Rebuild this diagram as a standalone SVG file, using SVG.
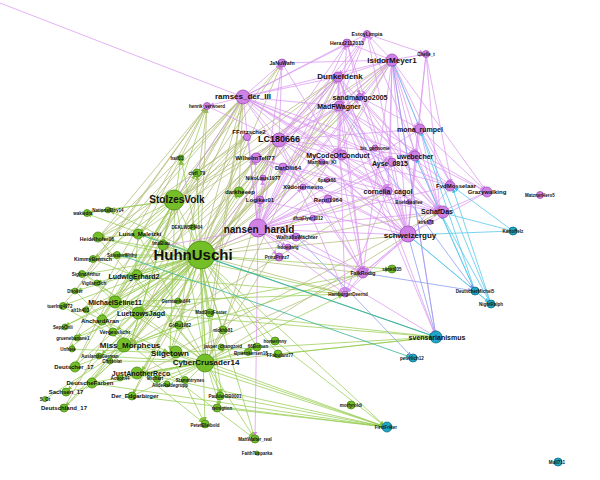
<svg xmlns="http://www.w3.org/2000/svg" width="600" height="480" viewBox="0 0 600 480">
<style>
line{stroke-width:0.9;fill:none}
.eg{stroke:#94cc4c;stroke-opacity:.8;marker-end:url(#mg)}
.ek{stroke:#aebb72;stroke-opacity:.8;marker-end:url(#mk)}
.ev{stroke:#d994ef;stroke-opacity:.8;marker-end:url(#mv)}
.ec{stroke:#5cc8ec;stroke-opacity:.9;marker-end:url(#mc)}
.et{stroke:#3cb49a;stroke-opacity:.9;marker-end:url(#mt)}
.ep{stroke:#8f9ff0;stroke-opacity:.9;marker-end:url(#mp)}
.g{fill:#74be28;stroke:#4a8a18;stroke-width:0.8}
.p{fill:#d081e6;stroke:#9c4fb5;stroke-width:0.8}
.b{fill:#1fa6c6;stroke:#0c6d88;stroke-width:0.8}
text{font-family:"Liberation Sans",Arial,sans-serif;font-weight:bold;fill:#111;text-anchor:middle;dominant-baseline:central}
.t15{font-size:15px}.t10{font-size:10px}.t9{font-size:9px}.t8{font-size:8px}.t7{font-size:7px}.t6{font-size:6px}.t5{font-size:5.2px}.t4{font-size:4.5px}
</style>
<defs>
<marker id="mg" viewBox="0 0 10 10" refX="14" refY="5" markerWidth="5" markerHeight="5" orient="auto" markerUnits="userSpaceOnUse"><path d="M0,1L10,5L0,9z" fill="#86c23a"/></marker>
<marker id="mk" viewBox="0 0 10 10" refX="14" refY="5" markerWidth="5" markerHeight="5" orient="auto" markerUnits="userSpaceOnUse"><path d="M0,1L10,5L0,9z" fill="#9fb468"/></marker>
<marker id="mv" viewBox="0 0 10 10" refX="14" refY="5" markerWidth="5" markerHeight="5" orient="auto" markerUnits="userSpaceOnUse"><path d="M0,1L10,5L0,9z" fill="#d38be8"/></marker>
<marker id="mc" viewBox="0 0 10 10" refX="14" refY="5" markerWidth="5" markerHeight="5" orient="auto" markerUnits="userSpaceOnUse"><path d="M0,1L10,5L0,9z" fill="#40bce6"/></marker>
<marker id="mt" viewBox="0 0 10 10" refX="14" refY="5" markerWidth="5" markerHeight="5" orient="auto" markerUnits="userSpaceOnUse"><path d="M0,1L10,5L0,9z" fill="#30a88e"/></marker>
<marker id="mp" viewBox="0 0 10 10" refX="14" refY="5" markerWidth="5" markerHeight="5" orient="auto" markerUnits="userSpaceOnUse"><path d="M0,1L10,5L0,9z" fill="#8a8ff0"/></marker>
</defs>
<rect width="600" height="480" fill="#fff"/>
<g id="connectors">
<line class="eg" x1="200" y1="255" x2="138" y2="234"/><line class="eg" x1="200" y1="255" x2="98" y2="238"/><line class="eg" x1="200" y1="255" x2="93" y2="259"/><line class="eg" x1="200" y1="255" x2="85" y2="274"/><line class="eg" x1="200" y1="255" x2="135" y2="276"/><line class="eg" x1="200" y1="255" x2="95" y2="283"/><line class="eg" x1="200" y1="255" x2="75" y2="291"/><line class="eg" x1="200" y1="255" x2="115" y2="302"/><line class="eg" x1="200" y1="255" x2="62" y2="306"/><line class="eg" x1="200" y1="255" x2="82" y2="310"/><line class="eg" x1="200" y1="255" x2="140" y2="313"/><line class="eg" x1="200" y1="255" x2="100" y2="320"/><line class="eg" x1="200" y1="255" x2="63" y2="327"/><line class="eg" x1="200" y1="255" x2="115" y2="332"/><line class="eg" x1="200" y1="255" x2="75" y2="338"/><line class="eg" x1="200" y1="255" x2="130" y2="345"/><line class="eg" x1="200" y1="255" x2="68" y2="349"/><line class="eg" x1="200" y1="255" x2="100" y2="356"/><line class="eg" x1="200" y1="255" x2="74" y2="367"/><line class="eg" x1="200" y1="255" x2="170" y2="353"/><line class="eg" x1="200" y1="255" x2="206" y2="362"/><line class="eg" x1="200" y1="255" x2="141" y2="373"/><line class="eg" x1="200" y1="255" x2="90" y2="383"/><line class="eg" x1="200" y1="255" x2="66" y2="392"/><line class="eg" x1="200" y1="255" x2="64" y2="408"/><line class="eg" x1="200" y1="255" x2="132" y2="396"/><line class="eg" x1="200" y1="255" x2="222" y2="396"/><line class="eg" x1="200" y1="255" x2="220" y2="408"/><line class="eg" x1="200" y1="255" x2="205" y2="424"/><line class="eg" x1="200" y1="255" x2="255" y2="439"/><line class="eg" x1="200" y1="255" x2="175" y2="200"/><line class="eg" x1="200" y1="255" x2="108" y2="210"/><line class="eg" x1="200" y1="255" x2="85" y2="213"/><line class="eg" x1="200" y1="255" x2="120" y2="255"/><line class="eg" x1="200" y1="255" x2="162" y2="246"/><line class="eg" x1="200" y1="255" x2="181" y2="158"/><line class="eg" x1="200" y1="255" x2="197" y2="173"/><line class="eg" x1="200" y1="255" x2="239" y2="192"/><line class="eg" x1="200" y1="255" x2="392" y2="269"/><line class="eg" x1="200" y1="255" x2="386" y2="427"/>
<line class="eg" x1="115" y1="302" x2="200" y2="255"/><line class="eg" x1="130" y1="345" x2="200" y2="255"/><line class="eg" x1="206" y1="362" x2="200" y2="255"/><line class="eg" x1="135" y1="276" x2="200" y2="255"/><line class="eg" x1="176" y1="301" x2="200" y2="255"/><line class="eg" x1="210" y1="312" x2="200" y2="255"/><line class="eg" x1="223" y1="330" x2="200" y2="255"/><line class="eg" x1="180" y1="325" x2="200" y2="255"/><line class="eg" x1="275" y1="341" x2="200" y2="255"/><line class="eg" x1="278" y1="354" x2="200" y2="255"/><line class="eg" x1="257" y1="347" x2="200" y2="255"/><line class="eg" x1="190" y1="227" x2="200" y2="255"/>
<line class="eg" x1="175" y1="200" x2="207" y2="106"/><line class="eg" x1="175" y1="200" x2="181" y2="158"/><line class="eg" x1="175" y1="200" x2="197" y2="173"/><line class="eg" x1="175" y1="200" x2="108" y2="210"/><line class="eg" x1="175" y1="200" x2="85" y2="213"/><line class="eg" x1="175" y1="200" x2="98" y2="238"/><line class="eg" x1="175" y1="200" x2="138" y2="234"/><line class="eg" x1="175" y1="200" x2="135" y2="276"/><line class="eg" x1="175" y1="200" x2="115" y2="302"/><line class="eg" x1="175" y1="200" x2="93" y2="259"/><line class="eg" x1="175" y1="200" x2="140" y2="313"/><line class="eg" x1="175" y1="200" x2="130" y2="345"/><line class="eg" x1="175" y1="200" x2="170" y2="353"/><line class="eg" x1="175" y1="200" x2="206" y2="362"/><line class="eg" x1="175" y1="200" x2="162" y2="246"/><line class="eg" x1="175" y1="200" x2="100" y2="320"/><line class="eg" x1="175" y1="200" x2="74" y2="367"/>
<line class="eg" x1="98" y1="238" x2="138" y2="234"/><line class="eg" x1="85" y1="213" x2="108" y2="210"/><line class="eg" x1="138" y1="234" x2="135" y2="276"/><line class="eg" x1="135" y1="276" x2="115" y2="302"/><line class="eg" x1="115" y1="302" x2="140" y2="313"/><line class="eg" x1="140" y1="313" x2="130" y2="345"/><line class="eg" x1="130" y1="345" x2="170" y2="353"/><line class="eg" x1="170" y1="353" x2="206" y2="362"/><line class="eg" x1="206" y1="362" x2="141" y2="373"/><line class="eg" x1="130" y1="345" x2="90" y2="383"/><line class="eg" x1="100" y1="320" x2="130" y2="345"/><line class="eg" x1="74" y1="367" x2="130" y2="345"/><line class="eg" x1="64" y1="408" x2="130" y2="345"/><line class="eg" x1="66" y1="392" x2="206" y2="362"/><line class="eg" x1="132" y1="396" x2="206" y2="362"/><line class="eg" x1="90" y1="383" x2="206" y2="362"/><line class="eg" x1="141" y1="373" x2="205" y2="424"/><line class="eg" x1="206" y1="362" x2="220" y2="408"/><line class="eg" x1="206" y1="362" x2="222" y2="396"/><line class="eg" x1="206" y1="362" x2="255" y2="439"/><line class="eg" x1="130" y1="345" x2="255" y2="439"/><line class="eg" x1="170" y1="353" x2="205" y2="424"/><line class="eg" x1="115" y1="302" x2="206" y2="362"/><line class="eg" x1="135" y1="276" x2="206" y2="362"/><line class="eg" x1="98" y1="238" x2="206" y2="362"/><line class="eg" x1="138" y1="234" x2="206" y2="362"/><line class="eg" x1="85" y1="274" x2="206" y2="362"/><line class="eg" x1="62" y1="306" x2="130" y2="345"/><line class="eg" x1="63" y1="327" x2="115" y2="302"/><line class="eg" x1="75" y1="338" x2="140" y2="313"/><line class="eg" x1="68" y1="349" x2="170" y2="353"/><line class="eg" x1="100" y1="356" x2="206" y2="362"/><line class="eg" x1="112" y1="361" x2="206" y2="362"/><line class="eg" x1="157" y1="379" x2="206" y2="362"/><line class="eg" x1="188" y1="380" x2="206" y2="362"/><line class="eg" x1="168" y1="385" x2="206" y2="362"/><line class="eg" x1="120" y1="378" x2="206" y2="362"/><line class="eg" x1="45" y1="399" x2="130" y2="345"/><line class="eg" x1="206" y1="362" x2="227" y2="347"/><line class="eg" x1="206" y1="362" x2="248" y2="352"/><line class="eg" x1="206" y1="362" x2="257" y2="347"/><line class="eg" x1="223" y1="330" x2="206" y2="362"/><line class="eg" x1="210" y1="312" x2="130" y2="345"/><line class="eg" x1="180" y1="325" x2="130" y2="345"/><line class="eg" x1="93" y1="259" x2="135" y2="276"/><line class="eg" x1="85" y1="274" x2="115" y2="302"/><line class="eg" x1="95" y1="283" x2="140" y2="313"/><line class="eg" x1="75" y1="291" x2="130" y2="345"/><line class="eg" x1="82" y1="310" x2="170" y2="353"/>
<line class="eg" x1="222" y1="396" x2="386" y2="427"/><line class="eg" x1="220" y1="408" x2="386" y2="427"/><line class="eg" x1="132" y1="396" x2="386" y2="427"/><line class="eg" x1="141" y1="373" x2="386" y2="427"/><line class="eg" x1="206" y1="362" x2="386" y2="427"/><line class="eg" x1="130" y1="345" x2="386" y2="427"/><line class="eg" x1="170" y1="353" x2="386" y2="427"/><line class="eg" x1="90" y1="383" x2="386" y2="427"/><line class="eg" x1="275" y1="341" x2="386" y2="427"/>
<line class="eg" x1="140" y1="313" x2="436" y2="337"/><line class="eg" x1="170" y1="353" x2="436" y2="337"/><line class="eg" x1="206" y1="362" x2="436" y2="337"/><line class="eg" x1="115" y1="302" x2="436" y2="337"/><line class="eg" x1="278" y1="354" x2="436" y2="337"/>
<line class="eg" x1="135" y1="276" x2="345" y2="294"/><line class="eg" x1="115" y1="302" x2="345" y2="294"/><line class="eg" x1="130" y1="345" x2="363" y2="273"/><line class="eg" x1="140" y1="313" x2="392" y2="269"/><line class="eg" x1="98" y1="238" x2="345" y2="294"/><line class="eg" x1="206" y1="362" x2="345" y2="294"/>
<line class="ek" x1="200" y1="255" x2="243" y2="97"/><line class="ek" x1="200" y1="255" x2="248" y2="134"/><line class="ek" x1="200" y1="255" x2="279" y2="140"/><line class="ek" x1="200" y1="255" x2="255" y2="158"/><line class="ek" x1="200" y1="255" x2="338" y2="77"/><line class="ek" x1="200" y1="255" x2="392" y2="60"/><line class="ek" x1="200" y1="255" x2="339" y2="106"/><line class="ek" x1="200" y1="255" x2="360" y2="97"/><line class="ek" x1="200" y1="255" x2="282" y2="63"/><line class="ek" x1="200" y1="255" x2="207" y2="106"/><line class="ek" x1="200" y1="255" x2="284" y2="168"/><line class="ek" x1="200" y1="255" x2="258" y2="229"/><line class="ek" x1="200" y1="255" x2="388" y2="191"/><line class="ek" x1="200" y1="255" x2="408" y2="235"/><line class="ek" x1="200" y1="255" x2="440" y2="212"/><line class="ek" x1="200" y1="255" x2="363" y2="273"/><line class="ek" x1="200" y1="255" x2="345" y2="294"/><line class="ek" x1="200" y1="255" x2="322" y2="162"/><line class="ek" x1="200" y1="255" x2="338" y2="155"/>
<line class="ek" x1="98" y1="238" x2="243" y2="97"/><line class="ek" x1="98" y1="238" x2="207" y2="106"/><line class="ek" x1="138" y1="234" x2="279" y2="140"/><line class="ek" x1="135" y1="276" x2="243" y2="97"/><line class="ek" x1="115" y1="302" x2="248" y2="134"/><line class="ek" x1="140" y1="313" x2="279" y2="140"/><line class="ek" x1="130" y1="345" x2="243" y2="97"/><line class="ek" x1="130" y1="345" x2="255" y2="158"/><line class="ek" x1="170" y1="353" x2="279" y2="140"/><line class="ek" x1="206" y1="362" x2="243" y2="97"/><line class="ek" x1="206" y1="362" x2="338" y2="77"/><line class="ek" x1="85" y1="274" x2="207" y2="106"/><line class="ek" x1="93" y1="259" x2="243" y2="97"/><line class="ek" x1="75" y1="291" x2="207" y2="106"/><line class="ek" x1="100" y1="320" x2="282" y2="63"/><line class="ek" x1="115" y1="332" x2="248" y2="134"/><line class="ek" x1="141" y1="373" x2="279" y2="140"/><line class="ek" x1="90" y1="383" x2="255" y2="158"/><line class="ek" x1="74" y1="367" x2="207" y2="106"/><line class="ek" x1="62" y1="306" x2="243" y2="97"/><line class="ek" x1="82" y1="310" x2="248" y2="134"/><line class="ek" x1="68" y1="349" x2="207" y2="106"/><line class="ek" x1="64" y1="408" x2="243" y2="97"/><line class="ek" x1="132" y1="396" x2="279" y2="140"/><line class="ek" x1="210" y1="312" x2="243" y2="97"/><line class="ek" x1="223" y1="330" x2="279" y2="140"/><line class="ek" x1="180" y1="325" x2="207" y2="106"/><line class="ek" x1="206" y1="362" x2="392" y2="60"/><line class="ek" x1="130" y1="345" x2="339" y2="106"/><line class="ek" x1="115" y1="302" x2="338" y2="77"/><line class="ek" x1="175" y1="200" x2="243" y2="97"/><line class="ek" x1="175" y1="200" x2="248" y2="134"/><line class="ek" x1="175" y1="200" x2="279" y2="140"/><line class="ek" x1="175" y1="200" x2="338" y2="77"/><line class="ek" x1="175" y1="200" x2="392" y2="60"/><line class="ek" x1="239" y1="192" x2="279" y2="140"/><line class="ek" x1="239" y1="192" x2="243" y2="97"/><line class="ek" x1="181" y1="158" x2="243" y2="97"/><line class="ek" x1="197" y1="173" x2="248" y2="134"/><line class="ek" x1="162" y1="246" x2="279" y2="140"/><line class="ek" x1="135" y1="276" x2="392" y2="60"/><line class="ek" x1="140" y1="313" x2="360" y2="97"/><line class="ek" x1="206" y1="362" x2="408" y2="235"/><line class="ek" x1="170" y1="353" x2="440" y2="212"/><line class="ek" x1="130" y1="345" x2="388" y2="191"/><line class="ek" x1="141" y1="373" x2="363" y2="273"/><line class="ek" x1="138" y1="234" x2="282" y2="63"/><line class="ek" x1="98" y1="238" x2="338" y2="77"/>
<line class="ev" x1="0" y1="3" x2="243" y2="97"/>
<line class="ev" x1="258" y1="229" x2="243" y2="97"/><line class="ev" x1="258" y1="229" x2="279" y2="140"/><line class="ev" x1="258" y1="229" x2="248" y2="134"/><line class="ev" x1="258" y1="229" x2="255" y2="158"/><line class="ev" x1="258" y1="229" x2="282" y2="63"/><line class="ev" x1="258" y1="229" x2="338" y2="77"/><line class="ev" x1="258" y1="229" x2="392" y2="60"/><line class="ev" x1="258" y1="229" x2="339" y2="106"/><line class="ev" x1="258" y1="229" x2="360" y2="97"/><line class="ev" x1="258" y1="229" x2="420" y2="129"/><line class="ev" x1="258" y1="229" x2="415" y2="156"/><line class="ev" x1="258" y1="229" x2="338" y2="155"/><line class="ev" x1="258" y1="229" x2="390" y2="163"/><line class="ev" x1="258" y1="229" x2="388" y2="191"/><line class="ev" x1="258" y1="229" x2="452" y2="186"/><line class="ev" x1="258" y1="229" x2="440" y2="212"/><line class="ev" x1="258" y1="229" x2="408" y2="235"/><line class="ev" x1="258" y1="229" x2="363" y2="273"/><line class="ev" x1="258" y1="229" x2="345" y2="294"/><line class="ev" x1="258" y1="229" x2="297" y2="237"/><line class="ev" x1="258" y1="229" x2="278" y2="257"/><line class="ev" x1="258" y1="229" x2="288" y2="247"/><line class="ev" x1="258" y1="229" x2="260" y2="200"/><line class="ev" x1="258" y1="229" x2="284" y2="168"/><line class="ev" x1="258" y1="229" x2="263" y2="178"/><line class="ev" x1="258" y1="229" x2="303" y2="187"/><line class="ev" x1="258" y1="229" x2="200" y2="255"/><line class="ev" x1="258" y1="229" x2="162" y2="246"/><line class="ev" x1="258" y1="229" x2="255" y2="439"/><line class="ev" x1="258" y1="229" x2="436" y2="337"/><line class="ev" x1="258" y1="229" x2="328" y2="200"/><line class="ev" x1="258" y1="229" x2="308" y2="218"/><line class="ev" x1="258" y1="229" x2="367" y2="34"/><line class="ev" x1="258" y1="229" x2="347" y2="43"/>
<line class="ev" x1="392" y1="60" x2="338" y2="77"/><line class="ev" x1="392" y1="60" x2="367" y2="34"/><line class="ev" x1="392" y1="60" x2="347" y2="43"/><line class="ev" x1="392" y1="60" x2="426" y2="54"/><line class="ev" x1="392" y1="60" x2="339" y2="106"/><line class="ev" x1="392" y1="60" x2="360" y2="97"/><line class="ev" x1="392" y1="60" x2="279" y2="140"/><line class="ev" x1="392" y1="60" x2="243" y2="97"/><line class="ev" x1="392" y1="60" x2="420" y2="129"/><line class="ev" x1="392" y1="60" x2="415" y2="156"/><line class="ev" x1="392" y1="60" x2="452" y2="186"/><line class="ev" x1="392" y1="60" x2="487" y2="192"/><line class="ev" x1="392" y1="60" x2="440" y2="212"/><line class="ev" x1="392" y1="60" x2="408" y2="235"/><line class="ev" x1="392" y1="60" x2="388" y2="191"/><line class="ev" x1="392" y1="60" x2="390" y2="163"/><line class="ev" x1="392" y1="60" x2="363" y2="273"/><line class="ev" x1="392" y1="60" x2="436" y2="337"/><line class="ev" x1="392" y1="60" x2="338" y2="155"/>
<line class="ev" x1="367" y1="34" x2="338" y2="77"/><line class="ev" x1="367" y1="34" x2="426" y2="54"/><line class="ev" x1="367" y1="34" x2="339" y2="106"/><line class="ev" x1="367" y1="34" x2="243" y2="97"/><line class="ev" x1="367" y1="34" x2="440" y2="212"/><line class="ev" x1="367" y1="34" x2="408" y2="235"/><line class="ev" x1="367" y1="34" x2="279" y2="140"/>
<line class="ev" x1="347" y1="43" x2="243" y2="97"/><line class="ev" x1="347" y1="43" x2="279" y2="140"/><line class="ev" x1="347" y1="43" x2="360" y2="97"/><line class="ev" x1="347" y1="43" x2="338" y2="155"/><line class="ev" x1="347" y1="43" x2="408" y2="235"/>
<line class="ev" x1="426" y1="54" x2="440" y2="212"/><line class="ev" x1="426" y1="54" x2="452" y2="186"/><line class="ev" x1="426" y1="54" x2="415" y2="156"/><line class="ev" x1="426" y1="54" x2="408" y2="235"/>
<line class="ev" x1="338" y1="77" x2="243" y2="97"/><line class="ev" x1="338" y1="77" x2="279" y2="140"/><line class="ev" x1="338" y1="77" x2="338" y2="155"/><line class="ev" x1="338" y1="77" x2="408" y2="235"/><line class="ev" x1="338" y1="77" x2="440" y2="212"/><line class="ev" x1="338" y1="77" x2="415" y2="156"/><line class="ev" x1="338" y1="77" x2="363" y2="273"/><line class="ev" x1="338" y1="77" x2="436" y2="337"/><line class="ev" x1="338" y1="77" x2="345" y2="294"/><line class="ev" x1="338" y1="77" x2="388" y2="191"/><line class="ev" x1="338" y1="77" x2="255" y2="158"/><line class="ev" x1="338" y1="77" x2="200" y2="255"/>
<line class="ev" x1="339" y1="106" x2="279" y2="140"/><line class="ev" x1="339" y1="106" x2="243" y2="97"/><line class="ev" x1="339" y1="106" x2="390" y2="163"/><line class="ev" x1="339" y1="106" x2="408" y2="235"/><line class="ev" x1="339" y1="106" x2="388" y2="191"/><line class="ev" x1="339" y1="106" x2="440" y2="212"/><line class="ev" x1="339" y1="106" x2="363" y2="273"/><line class="ev" x1="339" y1="106" x2="452" y2="186"/><line class="ev" x1="339" y1="106" x2="487" y2="192"/><line class="ev" x1="339" y1="106" x2="436" y2="337"/>
<line class="ev" x1="360" y1="97" x2="415" y2="156"/><line class="ev" x1="360" y1="97" x2="408" y2="235"/><line class="ev" x1="360" y1="97" x2="279" y2="140"/><line class="ev" x1="360" y1="97" x2="420" y2="129"/><line class="ev" x1="360" y1="97" x2="440" y2="212"/>
<line class="ev" x1="243" y1="97" x2="207" y2="106"/><line class="ev" x1="243" y1="97" x2="279" y2="140"/><line class="ev" x1="243" y1="97" x2="282" y2="63"/><line class="ev" x1="243" y1="97" x2="338" y2="155"/><line class="ev" x1="243" y1="97" x2="390" y2="163"/><line class="ev" x1="243" y1="97" x2="408" y2="235"/><line class="ev" x1="243" y1="97" x2="440" y2="212"/><line class="ev" x1="243" y1="97" x2="388" y2="191"/><line class="ev" x1="243" y1="97" x2="452" y2="186"/><line class="ev" x1="243" y1="97" x2="415" y2="156"/><line class="ev" x1="243" y1="97" x2="363" y2="273"/><line class="ev" x1="243" y1="97" x2="175" y2="200"/>
<line class="ev" x1="279" y1="140" x2="388" y2="191"/><line class="ev" x1="279" y1="140" x2="408" y2="235"/><line class="ev" x1="279" y1="140" x2="440" y2="212"/><line class="ev" x1="279" y1="140" x2="452" y2="186"/><line class="ev" x1="279" y1="140" x2="363" y2="273"/><line class="ev" x1="279" y1="140" x2="415" y2="156"/><line class="ev" x1="279" y1="140" x2="420" y2="129"/><line class="ev" x1="279" y1="140" x2="345" y2="294"/>
<line class="ev" x1="282" y1="63" x2="279" y2="140"/><line class="ev" x1="282" y1="63" x2="338" y2="155"/><line class="ev" x1="282" y1="63" x2="392" y2="60"/>
<line class="ev" x1="420" y1="129" x2="408" y2="235"/><line class="ev" x1="420" y1="129" x2="440" y2="212"/><line class="ev" x1="420" y1="129" x2="452" y2="186"/><line class="ev" x1="420" y1="129" x2="487" y2="192"/>
<line class="ev" x1="415" y1="156" x2="440" y2="212"/><line class="ev" x1="415" y1="156" x2="408" y2="235"/><line class="ev" x1="415" y1="156" x2="487" y2="192"/>
<line class="ev" x1="452" y1="186" x2="408" y2="235"/><line class="ev" x1="487" y1="192" x2="408" y2="235"/><line class="ev" x1="487" y1="192" x2="440" y2="212"/>
<line class="ev" x1="338" y1="155" x2="408" y2="235"/><line class="ev" x1="338" y1="155" x2="388" y2="191"/><line class="ev" x1="338" y1="155" x2="363" y2="273"/>
<line class="ev" x1="390" y1="163" x2="408" y2="235"/><line class="ev" x1="390" y1="163" x2="440" y2="212"/>
<line class="ev" x1="388" y1="191" x2="408" y2="235"/><line class="ev" x1="388" y1="191" x2="345" y2="294"/>
<line class="ev" x1="408" y1="235" x2="363" y2="273"/><line class="ev" x1="408" y1="235" x2="345" y2="294"/><line class="ev" x1="440" y1="212" x2="363" y2="273"/>
<line class="ev" x1="297" y1="237" x2="363" y2="273"/><line class="ev" x1="328" y1="200" x2="363" y2="273"/>
<line class="ev" x1="255" y1="158" x2="388" y2="191"/><line class="ev" x1="255" y1="158" x2="408" y2="235"/><line class="ev" x1="255" y1="158" x2="440" y2="212"/>
<line class="ev" x1="284" y1="168" x2="408" y2="235"/><line class="ev" x1="363" y1="273" x2="345" y2="294"/><line class="ev" x1="207" y1="106" x2="279" y2="140"/>
<line class="ev" x1="322" y1="162" x2="408" y2="235"/><line class="ev" x1="303" y1="187" x2="440" y2="212"/><line class="ev" x1="260" y1="200" x2="408" y2="235"/>
<line class="ec" x1="475" y1="291" x2="408" y2="235"/><line class="ec" x1="475" y1="291" x2="440" y2="212"/><line class="ec" x1="475" y1="291" x2="415" y2="156"/><line class="ec" x1="475" y1="291" x2="420" y2="129"/><line class="ec" x1="475" y1="291" x2="491" y2="304"/>
<line class="ec" x1="491" y1="304" x2="408" y2="235"/><line class="ec" x1="491" y1="304" x2="440" y2="212"/><line class="ec" x1="491" y1="304" x2="452" y2="186"/><line class="ec" x1="491" y1="304" x2="392" y2="60"/>
<line class="ec" x1="513" y1="231" x2="440" y2="212"/><line class="ec" x1="513" y1="231" x2="408" y2="235"/><line class="ec" x1="513" y1="231" x2="452" y2="186"/>
<line class="ep" x1="436" y1="337" x2="408" y2="235"/><line class="ep" x1="436" y1="337" x2="392" y2="60"/><line class="ep" x1="363" y1="273" x2="475" y2="291"/><line class="ep" x1="297" y1="237" x2="413" y2="358"/><line class="ep" x1="339" y1="106" x2="475" y2="291"/>
<line class="et" x1="200" y1="255" x2="436" y2="337"/><line class="et" x1="120" y1="255" x2="413" y2="358"/><line class="et" x1="138" y1="234" x2="436" y2="337"/>
</g>
<g id="nodes">
<g id="n-EstoyLimpia"><circle class="p" cx="367" cy="34" r="3.5"/><text class="t5" x="367" y="34">EstoyLimpia</text></g>
<g id="n-Heraz2112013"><circle class="p" cx="347" cy="43" r="4"/><text class="t5" x="347" y="43">Heraz2112013</text></g>
<g id="n-Chelle_t"><circle class="p" cx="426" cy="54" r="3.5"/><text class="t4" x="426" y="54">Chelle_t</text></g>
<g id="n-IsidorMeyer1"><circle class="p" cx="392" cy="60" r="6"/><text class="t8" x="392" y="60">IsidorMeyer1</text></g>
<g id="n-JaNuWafn"><circle class="p" cx="282" cy="63" r="4"/><text class="t5" x="282" y="63">JaNuWafn</text></g>
<g id="n-Dunkeldenk"><circle class="p" cx="338" cy="77" r="5"/><text class="t8" x="340" y="76">Dunkeldenk</text></g>
<g id="n-sandmango2005"><circle class="p" cx="360" cy="97" r="3.5"/><text class="t7" x="360" y="97">sandmango2005</text></g>
<g id="n-ramses_der_III"><circle class="p" cx="243" cy="97" r="7"/><text class="t8" x="243" y="96">ramses_der_III</text></g>
<g id="n-MadFWagner"><circle class="p" cx="339" cy="106" r="5"/><text class="t7" x="339" y="106">MadFWagner</text></g>
<g id="n-henrik_verwoerd"><circle class="p" cx="207" cy="106" r="3.5"/><text class="t4" x="207" y="106">henrik_verwoerd</text></g>
<g id="n-FFritzsche2"><circle class="p" cx="247" cy="137" r="3.5"/><text class="t6" x="249" y="132">FFritzsche2</text></g>
<g id="n-LC180666"><circle class="p" cx="279" cy="140" r="7"/><text class="t9" x="279" y="139">LC180666</text></g>
<g id="n-mona_rumpel"><circle class="p" cx="420" cy="129" r="5"/><text class="t7" x="420" y="129">mona_rumpel</text></g>
<g id="n-bis_gertsome"><circle class="p" cx="375" cy="148" r="3"/><text class="t4" x="375" y="148">bis_gertsome</text></g>
<g id="n-uwebecher"><circle class="p" cx="415" cy="156" r="5"/><text class="t7" x="415" y="156">uwebecher</text></g>
<g id="n-WilhelmTell77"><circle class="p" cx="256" cy="158" r="5"/><text class="t6" x="255" y="158">WilhelmTell77</text></g>
<g id="n-MyCodeOfConduct"><circle class="p" cx="342" cy="155" r="5"/><text class="t7" x="338" y="155">MyCodeOfConduct</text></g>
<g id="n-Matthias_Kl"><circle class="p" cx="322" cy="162" r="3"/><text class="t5" x="322" y="162">Matthias_Kl</text></g>
<g id="n-Ayse_0815"><circle class="p" cx="392" cy="162" r="4"/><text class="t7" x="390" y="163">Ayse_0815</text></g>
<g id="n-DatOlli64"><circle class="p" cx="283" cy="167" r="4"/><text class="t6" x="288" y="168">DatOlli64</text></g>
<g id="n-NikoLaus1977"><circle class="p" cx="263" cy="178" r="3"/><text class="t5" x="263" y="178">NikoLaus1977</text></g>
<g id="n-X9donernesto"><circle class="p" cx="303" cy="187" r="3"/><text class="t6" x="303" y="187">X9donernesto</text></g>
<g id="n-6pack88"><circle class="p" cx="327" cy="180" r="2.5"/><text class="t4" x="327" y="180">6pack88</text></g>
<g id="n-Logiker01"><circle class="p" cx="260" cy="200" r="4"/><text class="t6" x="260" y="200">Logiker01</text></g>
<g id="n-Rentl1964"><circle class="p" cx="328" cy="199" r="4"/><text class="t6" x="328" y="200">Rentl1964</text></g>
<g id="n-cornelia_cagol"><circle class="p" cx="388" cy="191" r="4"/><text class="t7" x="388" y="191">cornelia_cagol</text></g>
<g id="n-FvdMosselaar"><circle class="p" cx="450" cy="186" r="5"/><text class="t6" x="456" y="186">FvdMosselaar</text></g>
<g id="n-Grazywalking"><circle class="p" cx="487" cy="192" r="5"/><text class="t6" x="487" y="192">Grazywalking</text></g>
<g id="n-Boelckeallee"><circle class="p" cx="409" cy="202" r="2.5"/><text class="t4" x="409" y="202">Boelckeallee</text></g>
<g id="n-SchafDas"><circle class="p" cx="443" cy="212" r="6"/><text class="t7" x="437" y="211">SchafDas</text></g>
<g id="n-kirk678"><circle class="p" cx="430" cy="222" r="2.5"/><text class="t4" x="426" y="222">kirk678</text></g>
<g id="n-schweizerguy"><circle class="p" cx="408" cy="234" r="8"/><text class="t8" x="410" y="235">schweizerguy</text></g>
<g id="n-nansen_harald"><circle class="p" cx="258" cy="228" r="9"/><text class="t10" x="259" y="229">nansen_harald</text></g>
<g id="n-WalhallaWaechter"><circle class="p" cx="296" cy="237" r="4"/><text class="t5" x="297" y="237">WalhallaWächter</text></g>
<g id="n-dfuxFlyer1012"><circle class="p" cx="313" cy="218" r="3"/><text class="t4" x="308" y="218">dfuxFlyer1012</text></g>
<g id="n-hdoedwig"><circle class="p" cx="288" cy="247" r="3"/><text class="t4" x="288" y="247">hdoedwig</text></g>
<g id="n-PrinzPrinz7"><circle class="p" cx="279" cy="257" r="4"/><text class="t4" x="277" y="257">PrinzPrinz7</text></g>
<g id="n-MatznerHero5"><circle class="p" cx="540" cy="195" r="3.5"/><text class="t4" x="540" y="195">MatznerHero5</text></g>
<g id="n-FalkRodig"><circle class="p" cx="363" cy="273" r="5"/><text class="t5" x="363" y="273">FalkRodig</text></g>
<g id="n-HamburgerDeernd"><circle class="p" cx="345" cy="294" r="3"/><text class="t4" x="348" y="294">HamburgerDeernd</text></g>
<g id="n-StolzesVolk"><circle class="g" cx="174" cy="200" r="10"/><text class="t10" x="177" y="199">StolzesVolk</text></g>
<g id="n-HuhnUschi"><circle class="g" cx="201" cy="255" r="14"/><text class="t15" x="193" y="254">HuhnUschi</text></g>
<g id="n-hail01"><circle class="g" cx="181" cy="158" r="3"/><text class="t4" x="177" y="158">hail01</text></g>
<g id="n-cfvfl_79"><circle class="g" cx="197" cy="173" r="4"/><text class="t4" x="197" y="173">cfvfl_79</text></g>
<g id="n-DEKLWSPI404"><circle class="g" cx="193" cy="227" r="3"/><text class="t4" x="187" y="227">DEKLWSPI404</text></g>
<g id="n-NationalBoy14"><circle class="g" cx="108" cy="210" r="3"/><text class="t4" x="108" y="210">NationalBoy14</text></g>
<g id="n-wakiedra"><circle class="g" cx="87" cy="213" r="3.5"/><text class="t4" x="83" y="213">wakiedra</text></g>
<g id="n-Heidelhofer06"><circle class="g" cx="98" cy="237" r="5"/><text class="t5" x="97" y="239">Heidelhofer06</text></g>
<g id="n-Luisa_Maletzki"><circle class="g" cx="138" cy="234" r="5"/><text class="t6" x="140" y="234">Luisa_Maletzki</text></g>
<g id="n-ImaBlau"><circle class="g" cx="163" cy="245" r="5"/><text class="t4" x="161" y="243">ImaBlau</text></g>
<g id="n-SalvatorWithy"><circle class="g" cx="117" cy="255" r="3.5"/><text class="t4" x="122" y="255">SalvatorWithy</text></g>
<g id="n-KimmyBentsch"><circle class="g" cx="93" cy="259" r="3.5"/><text class="t5" x="93" y="259">KimmyBentsch</text></g>
<g id="n-SiglindArthur"><circle class="g" cx="82" cy="274" r="3.5"/><text class="t4" x="86" y="274">SiglindArthur</text></g>
<g id="n-LudwigErhard2"><circle class="g" cx="137" cy="275" r="5"/><text class="t7" x="134" y="276">LudwigErhard2</text></g>
<g id="n-VigilantSch"><circle class="g" cx="97" cy="283" r="3"/><text class="t4" x="94" y="283">VigilantSch</text></g>
<g id="n-Dhoker"><circle class="g" cx="75" cy="291" r="3"/><text class="t4" x="75" y="291">Dhoker</text></g>
<g id="n-MichaelSeline11"><circle class="g" cx="115" cy="302" r="6"/><text class="t7" x="115" y="302">MichaelSeline11</text></g>
<g id="n-tuerlng4972"><circle class="g" cx="63" cy="306" r="3.5"/><text class="t4" x="60" y="306">tuerlng4972</text></g>
<g id="n-alt1h403"><circle class="g" cx="86" cy="310" r="3"/><text class="t4" x="80" y="310">alt1h403</text></g>
<g id="n-LuetzowsJagd"><circle class="g" cx="138" cy="313" r="6"/><text class="t7" x="141" y="313">LuetzowsJagd</text></g>
<g id="n-AnchardAran"><circle class="g" cx="102" cy="320" r="5"/><text class="t6" x="100" y="321">AnchardAran</text></g>
<g id="n-SeppOnli"><circle class="g" cx="65" cy="327" r="3"/><text class="t4" x="63" y="327">SeppOnli</text></g>
<g id="n-Vergesslichr"><circle class="g" cx="113" cy="332" r="4"/><text class="t5" x="115" y="332">Vergesslichr</text></g>
<g id="n-gruenebanane1"><circle class="g" cx="77" cy="338" r="3"/><text class="t4" x="73" y="338">gruenebanane1</text></g>
<g id="n-Miss_Morpheus"><circle class="g" cx="124" cy="345" r="7"/><text class="t8" x="130" y="345">Miss_Morpheus</text></g>
<g id="n-Unfreie"><circle class="g" cx="72" cy="349" r="3"/><text class="t4" x="68" y="349">Unfreie</text></g>
<g id="n-AuslandsGerman"><circle class="g" cx="99" cy="356" r="3"/><text class="t4" x="100" y="356">AuslandsGerman</text></g>
<g id="n-Chrisolat"><circle class="g" cx="110" cy="361" r="3"/><text class="t4" x="112" y="361">Chrisolat</text></g>
<g id="n-Deutscher_17"><circle class="g" cx="75" cy="367" r="5"/><text class="t6" x="74" y="367">Deutscher_17</text></g>
<g id="n-Silgetown"><circle class="g" cx="176" cy="352" r="6"/><text class="t8" x="170" y="353">Silgetown</text></g>
<g id="n-CyberCrusader14"><circle class="g" cx="205" cy="363" r="9"/><text class="t8" x="206" y="362">CyberCrusader14</text></g>
<g id="n-JustAnotherReco"><circle class="g" cx="137" cy="373" r="6"/><text class="t7" x="141" y="373">JustAnotherReco</text></g>
<g id="n-Action44"><circle class="g" cx="120" cy="378" r="3"/><text class="t4" x="120" y="378">Action44</text></g>
<g id="n-DeutscheFarben"><circle class="g" cx="92" cy="383" r="5"/><text class="t6" x="90" y="383">DeutscheFarben</text></g>
<g id="n-Sachsen_17"><circle class="g" cx="66" cy="392" r="4"/><text class="t6" x="66" y="392">Sachsen_17</text></g>
<g id="n-Deutschland_17"><circle class="g" cx="64" cy="408" r="4"/><text class="t6" x="64" y="408">Deutschland_17</text></g>
<g id="n-S_Ot"><circle class="g" cx="45" cy="399" r="2.5"/><text class="t4" x="45" y="399">S_Ot</text></g>
<g id="n-Michart"><circle class="g" cx="157" cy="379" r="3.5"/><text class="t4" x="155" y="378">Michart</text></g>
<g id="n-Stammtrynes"><circle class="g" cx="185" cy="380" r="3.5"/><text class="t4" x="190" y="380">Stammtrynes</text></g>
<g id="n-AlldeHaldegrupp"><circle class="g" cx="167" cy="384" r="3"/><text class="t4" x="170" y="385">AlldeHaldegrupp</text></g>
<g id="n-Der_Edgarbirger"><circle class="g" cx="132" cy="396" r="4"/><text class="t6" x="135" y="396">Der_Edgarbirger</text></g>
<g id="n-PaulderBB0001"><circle class="g" cx="220" cy="396" r="4"/><text class="t4" x="225" y="396">PaulderBB0001</text></g>
<g id="n-reinigtion"><circle class="g" cx="217" cy="408" r="4"/><text class="t4" x="222" y="408">reinigtion</text></g>
<g id="n-PeterBleibold"><circle class="g" cx="205" cy="424" r="4"/><text class="t4" x="205" y="425">PeterBleibold</text></g>
<g id="n-MattWalter_real"><circle class="g" cx="255" cy="439" r="4"/><text class="t4" x="255" y="439">MattWalter_real</text></g>
<g id="n-FaithTupparka"><circle class="g" cx="257" cy="453" r="2"/><text class="t4" x="257" y="453">FaithTupparka</text></g>
<g id="n-GoRu1982"><circle class="g" cx="179" cy="325" r="4"/><text class="t4" x="180" y="325">GoRu1982</text></g>
<g id="n-MadDogFoster"><circle class="g" cx="210" cy="313" r="4"/><text class="t4" x="211" y="312">MadDogFoster</text></g>
<g id="n-nickhb81"><circle class="g" cx="223" cy="330" r="4"/><text class="t4" x="223" y="330">nickhb81</text></g>
<g id="n-Germanfed44"><circle class="g" cx="178" cy="301" r="3"/><text class="t4" x="176" y="301">Germanfed44</text></g>
<g id="n-jasper_changzoid"><circle class="g" cx="221" cy="347" r="3"/><text class="t4" x="223" y="346">jasper_changzoid</text></g>
<g id="n-homerinny"><circle class="g" cx="275" cy="341" r="4"/><text class="t4" x="275" y="341">homerinny</text></g>
<g id="n-66Borsen"><circle class="g" cx="257" cy="347" r="4"/><text class="t4" x="258" y="346">66Borsen</text></g>
<g id="n-Bjoernkersen18"><circle class="g" cx="248" cy="352" r="3.5"/><text class="t4" x="251" y="353">Bjoernkersen18</text></g>
<g id="n-FFabulant77"><circle class="g" cx="278" cy="354" r="4"/><text class="t4" x="280" y="355">FFabulant77</text></g>
<g id="n-morfyroldi"><circle class="g" cx="351" cy="405" r="4"/><text class="t4" x="351" y="405">morfyroldi</text></g>
<g id="n-sankt035"><circle class="g" cx="392" cy="269" r="4"/><text class="t4" x="392" y="269">sankt035</text></g>
<g id="n-darkheeep"><circle class="g" cx="239" cy="192" r="5"/><text class="t6" x="240" y="192">darkheeep</text></g>
<g id="n-svensarianismus"><circle class="b" cx="436" cy="337" r="6"/><text class="t7" x="437" y="337">svensarianismus</text></g>
<g id="n-peterlich12"><circle class="b" cx="413" cy="358" r="4"/><text class="t4" x="412" y="358">peterlich12</text></g>
<g id="n-DeutscherMichel5"><circle class="b" cx="475" cy="291" r="4"/><text class="t4" x="475" y="291">DeutscherMichel5</text></g>
<g id="n-NightRalph"><circle class="b" cx="491" cy="304" r="4"/><text class="t4" x="491" y="304">NightRalph</text></g>
<g id="n-Kartoffelz"><circle class="b" cx="513" cy="231" r="4"/><text class="t4" x="513" y="231">Kartoffelz</text></g>
<g id="n-Mull711"><circle class="b" cx="558" cy="462" r="4"/><text class="t4" x="557" y="462">Mull711</text></g>
<g id="n-FirstFriker"><circle class="b" cx="387" cy="427" r="5"/><text class="t4" x="386" y="427">FirstFriker</text></g>
</g>
</svg>
